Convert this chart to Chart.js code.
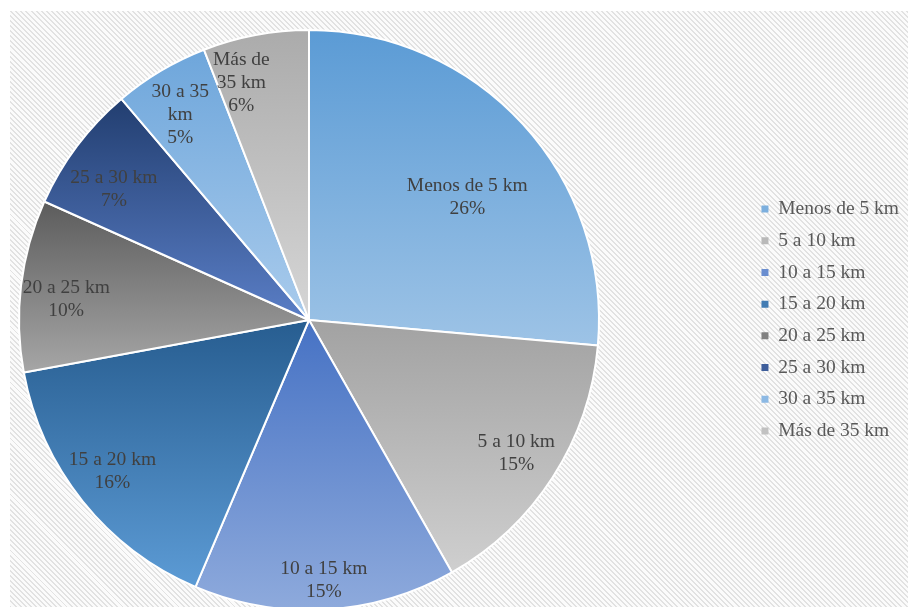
<!DOCTYPE html>
<html>
<head>
<meta charset="utf-8">
<script src="https://cdn.jsdelivr.net/npm/chart.js@4/dist/chart.umd.min.js"></script>
<style>
  html, body { margin: 0; padding: 0; width: 908px; height: 607px; overflow: hidden; background: #ffffff; }
  #bg {
    position: absolute; left: 10px; top: 11px; right: 0; bottom: 0;
    background: repeating-linear-gradient(45deg, #e2e2e2 0px, #e2e2e2 1.4px, #fbfbfb 1.4px, #fbfbfb 3.6px);
  }
  #wrap { position: absolute; left: 0; top: 0; width: 908px; height: 640px; }
</style>
</head>
<body>
<div id="bg"></div>
<div id="wrap"><canvas id="chart"></canvas></div>
<script>
// Distance bands
const categories = ['Menos de 5 km', '5 a 10 km', '10 a 15 km', '15 a 20 km',
                    '20 a 25 km', '25 a 30 km', '30 a 35 km', 'Más de 35 km'];
// Share of trips per band (%)
const shares = [26.4, 15.4, 14.6, 15.7, 9.6, 7.1, 5.3, 5.9];
// How each slice caption is broken into lines
const labelLines = [['Menos de 5 km'], ['5 a 10 km'], ['10 a 15 km'], ['15 a 20 km'],
                    ['20 a 25 km'], ['25 a 30 km'], ['30 a 35', 'km'], ['Más de', '35 km']];

// Gradient stops per slice: top colour, bottom colour
const topColors    = ['#5b9bd5', '#a2a2a2', '#4672c4', '#275d90', '#5c5c5c', '#223e70', '#6ea6db', '#ababab'];
const bottomColors = ['#9dc3e6', '#cfcfcf', '#8eaadc', '#5c9bd5', '#a6a6a6', '#5a7ec6', '#a9cbec', '#d6d6d6'];
// Caption placement: fraction of the radius, and position across the slice (0.5 = middle)
const labelDistance = [0.69, 0.85, 0.90, 0.855, 0.84, 0.81, 0.835, 0.85];
const labelSweep    = [0.55, 0.50, 0.50, 0.52, 0.44, 0.38, 0.43, 0.25];

const FONT = '"Liberation Serif", "Times New Roman", serif';

function mix(a, b) {
  const pa = parseInt(a.slice(1), 16), pb = parseInt(b.slice(1), 16);
  const ch = s => Math.round((((pa >> s) & 255) + ((pb >> s) & 255)) / 2);
  return 'rgb(' + ch(16) + ',' + ch(8) + ',' + ch(0) + ')';
}

// Vertical gradient across the bounding box of each slice
const sliceGradients = {
  id: 'sliceGradients',
  beforeDatasetsDraw(chart) {
    const ctx = chart.ctx;
    chart.getDatasetMeta(0).data.forEach((arc, i) => {
      const p = arc.getProps(['x', 'y', 'startAngle', 'endAngle', 'outerRadius'], true);
      const ys = [p.y, p.y + p.outerRadius * Math.sin(p.startAngle), p.y + p.outerRadius * Math.sin(p.endAngle)];
      for (let k = -4; k <= 8; k++) {
        const a = k * Math.PI / 2;
        if (a > p.startAngle && a < p.endAngle) ys.push(p.y + p.outerRadius * Math.sin(a));
      }
      const top = Math.min(...ys), bottom = Math.max(...ys);
      const g = ctx.createLinearGradient(0, top, 0, bottom);
      g.addColorStop(0, topColors[i]);
      g.addColorStop(1, bottomColors[i]);
      arc.options = Object.assign({}, arc.options, { backgroundColor: g });
    });
  }
};

// Caption + rounded percentage inside each slice
const sliceLabels = {
  id: 'sliceLabels',
  afterDatasetsDraw(chart) {
    const ctx = chart.ctx;
    const values = chart.data.datasets[0].data;
    const total = values.reduce((s, v) => s + v, 0);
    ctx.save();
    ctx.font = '19.5px ' + FONT;
    ctx.fillStyle = '#404040';
    ctx.textAlign = 'center';
    ctx.textBaseline = 'middle';
    chart.getDatasetMeta(0).data.forEach((arc, i) => {
      const p = arc.getProps(['x', 'y', 'startAngle', 'endAngle', 'outerRadius'], true);
      const ang = p.startAngle + (p.endAngle - p.startAngle) * labelSweep[i];
      const r = p.outerRadius * labelDistance[i];
      const cx = p.x + r * Math.cos(ang), cy = p.y + r * Math.sin(ang);
      const lines = labelLines[i].concat([Math.round(values[i] / total * 100) + '%']);
      const lh = 23;
      lines.forEach((t, k) => ctx.fillText(t, cx, cy + (k - (lines.length - 1) / 2) * lh));
    });
    ctx.restore();
  }
};

// Keep the pie in a square area on the left, beside the legend
const squarePie = {
  id: 'squarePie',
  afterLayout(chart) {
    const a = chart.chartArea;
    a.right = a.left + (a.bottom - a.top);
    a.width = a.right - a.left;
  }
};

new Chart(document.getElementById('chart'), {
  type: 'pie',
  data: {
    labels: categories,
    datasets: [{
      data: shares,
      backgroundColor: topColors.map((c, i) => mix(c, bottomColors[i])),
      borderColor: '#ffffff',
      borderWidth: 2
    }]
  },
  options: {
    responsive: true,
    maintainAspectRatio: false,
    animation: false,
    layout: { padding: { left: 18, top: 29, bottom: 29, right: -1 } },
    plugins: {
      tooltip: { enabled: false },
      legend: {
        position: 'right',
        labels: {
          boxWidth: 7,
          boxHeight: 7,
          padding: 12.2,
          color: '#595959',
          font: { family: FONT, size: 19.5 },
          generateLabels: () => categories.map((t, i) => ({
            text: t,
            fillStyle: mix(topColors[i], bottomColors[i]),
            strokeStyle: 'rgba(0,0,0,0)',
            lineWidth: 0,
            fontColor: '#595959',
            hidden: false,
            index: i
          }))
        }
      }
    }
  },
  plugins: [squarePie, sliceGradients, sliceLabels]
});
</script>
</body>
</html>
